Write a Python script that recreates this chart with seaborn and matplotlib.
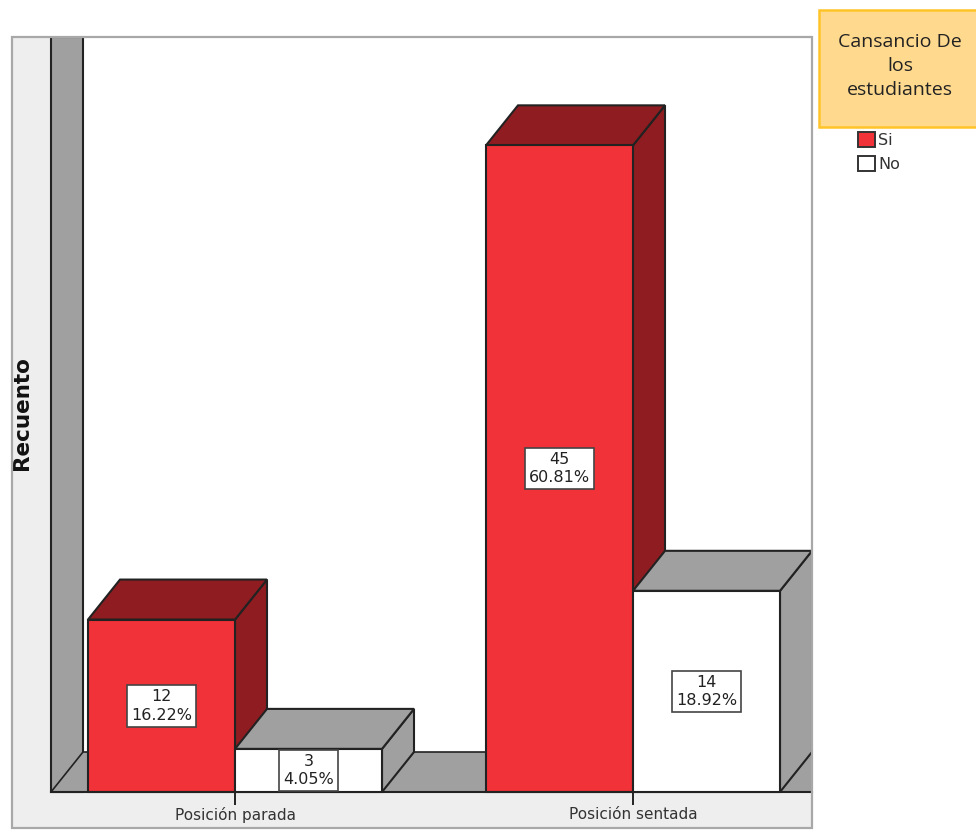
import matplotlib
matplotlib.use("Agg")
import matplotlib.pyplot as plt
from matplotlib.patches import Patch, Polygon, Rectangle
import pandas as pd
import seaborn as sns

categories = ["Posición parada", "Posición sentada"]
hue_levels = ["Si", "No"]
si_counts = [12, 45]
no_counts = [3, 14]
si_pct = ["16.22%", "60.81%"]
no_pct = ["4.05%", "18.92%"]
y_label = "Recuento"
legend_title = "Cansancio De\nlos\nestudiantes"

W, H = 976, 830
PX_X, PX_Y = 398.0, 14.37      # pixels per category step / per count
DX, DY = 32 / PX_X, 40 / PX_Y  # oblique depth of the 3-D look
RED, DARK_RED, GREY, PANEL = "#F13238", "#8F1C20", "#A0A0A0", "#EEEEEE"
LINE = "#222222"
FONT = ["DejaVu Sans"]

sns.set_theme(style="white")
plt.rcParams["font.family"] = FONT

df = pd.DataFrame({
    "cat": categories * 2,
    "grp": [hue_levels[0]] * 2 + [hue_levels[1]] * 2,
    "n": si_counts + no_counts,
})

fig = plt.figure(figsize=(W / 100, H / 100), dpi=100, facecolor="white")
ax = fig.add_axes([12 / W, 1 - 828 / H, 800 / W, 791 / H], facecolor="white")

sns.barplot(data=df, x="cat", y="n", hue="grp", hue_order=hue_levels,
            order=categories, palette=[RED, "white"], width=0.7387, gap=0,
            edgecolor=LINE, linewidth=1.5, legend=False, errorbar=None,
            saturation=1, ax=ax)

xmin, xmax = (12 - 235) / PX_X, (812 - 235) / PX_X
ymin, ymax = -36 / PX_Y, 755 / PX_Y
ax.set_xlim(xmin, xmax)
ax.set_ylim(ymin, ymax)
wall = (51 - 235) / PX_X

# backdrop: side panels, wall and floor
ax.add_patch(Rectangle((xmin, ymin), wall - xmin, ymax - ymin, fc=PANEL, ec="none", zorder=0.2))
ax.add_patch(Rectangle((xmin, ymin), xmax - xmin, -ymin, fc=PANEL, ec="none", zorder=0.2))
ax.add_patch(Rectangle((wall, 0), DX, ymax, fc=GREY, ec=LINE, lw=1.5, zorder=0.3))
ax.add_patch(Polygon([(wall, 0), (wall + DX, DY), (xmax, DY), (xmax, 0)],
                     fc=GREY, ec=LINE, lw=1.2, zorder=0.4))

# depth faces from the bars seaborn drew
z = 1.0
for container, face in zip(ax.containers, [DARK_RED, GREY]):
    for bar in container:
        x0, x1, h = bar.get_x(), bar.get_x() + bar.get_width(), bar.get_height()
        ax.add_patch(Polygon([(x1, h), (x1 + DX, h + DY), (x1 + DX, DY), (x1, 0)],
                             fc=face, ec=LINE, lw=1.5, zorder=z))
        ax.add_patch(Polygon([(x0, h), (x0 + DX, h + DY), (x1 + DX, h + DY), (x1, h)],
                             fc=face, ec=LINE, lw=1.5, zorder=z))
        bar.set_zorder(z + 0.5)
        z += 1

# value labels
labels = [f"{n}\n{p}" for n, p in zip(si_counts, si_pct)] + \
         [f"{n}\n{p}" for n, p in zip(no_counts, no_pct)]
bars = [b for c in ax.containers for b in c]
for bar, lab in zip(bars, labels):
    ax.text(bar.get_x() + bar.get_width() / 2, bar.get_height() / 2, lab,
            ha="center", va="center", fontsize=11.5, color="#222222", linespacing=1.3,
            zorder=20, bbox=dict(boxstyle="square,pad=0.25", fc="white", ec="#444444", lw=1.2))

# axis
for s in ["top", "left", "right"]:
    ax.spines[s].set_visible(False)
ax.spines["bottom"].set_position(("data", 0))
ax.spines["bottom"].set_bounds(wall, xmax)
ax.spines["bottom"].set_color(LINE)
ax.spines["bottom"].set_linewidth(1.5)
ax.set_axisbelow(False)
ax.set_yticks([])
ax.set_xticks([0, 1], categories)
ax.tick_params(axis="x", length=9, width=1.4, color=LINE, bottom=True,
               labelsize=11, labelcolor="#333333", pad=1.5)
ax.set_xlabel("")
ax.set_ylabel(y_label, fontsize=15.5, fontweight="bold", color="#111111", va="center")
ax.yaxis.set_label_coords(10 / 800, (828 - 413) / 791)

# outer frame
ax.add_patch(Rectangle((0, 0), 1, 1, transform=ax.transAxes, fc="none", ec="#A8A8A8",
                       lw=1.6, zorder=30, clip_on=False))

# legend
handles = [Patch(fc=RED, ec="#333333", lw=1.4), Patch(fc="white", ec="#333333", lw=1.4)]
ax.legend(handles, hue_levels, loc="upper left", bbox_to_anchor=(844 / W, 1 - 118 / H),
          bbox_transform=fig.transFigure, frameon=False, fontsize=11.5, handlelength=1.05,
          handleheight=1.05, handletextpad=0.2, labelspacing=0.475, labelcolor="#333333")

fig.add_artist(Rectangle((819 / W, 1 - 127 / H), 160 / W, 117 / H, transform=fig.transFigure,
                         fc="#FFD98E", ec="#FFC428", lw=1.8))
fig.text(900 / W, 1 - 66 / H, legend_title, ha="center", va="center", fontsize=14,
         family=["Open Sans", "DejaVu Sans"], color="#222222", linespacing=1.45)

fig.savefig("out.png", dpi=100)
